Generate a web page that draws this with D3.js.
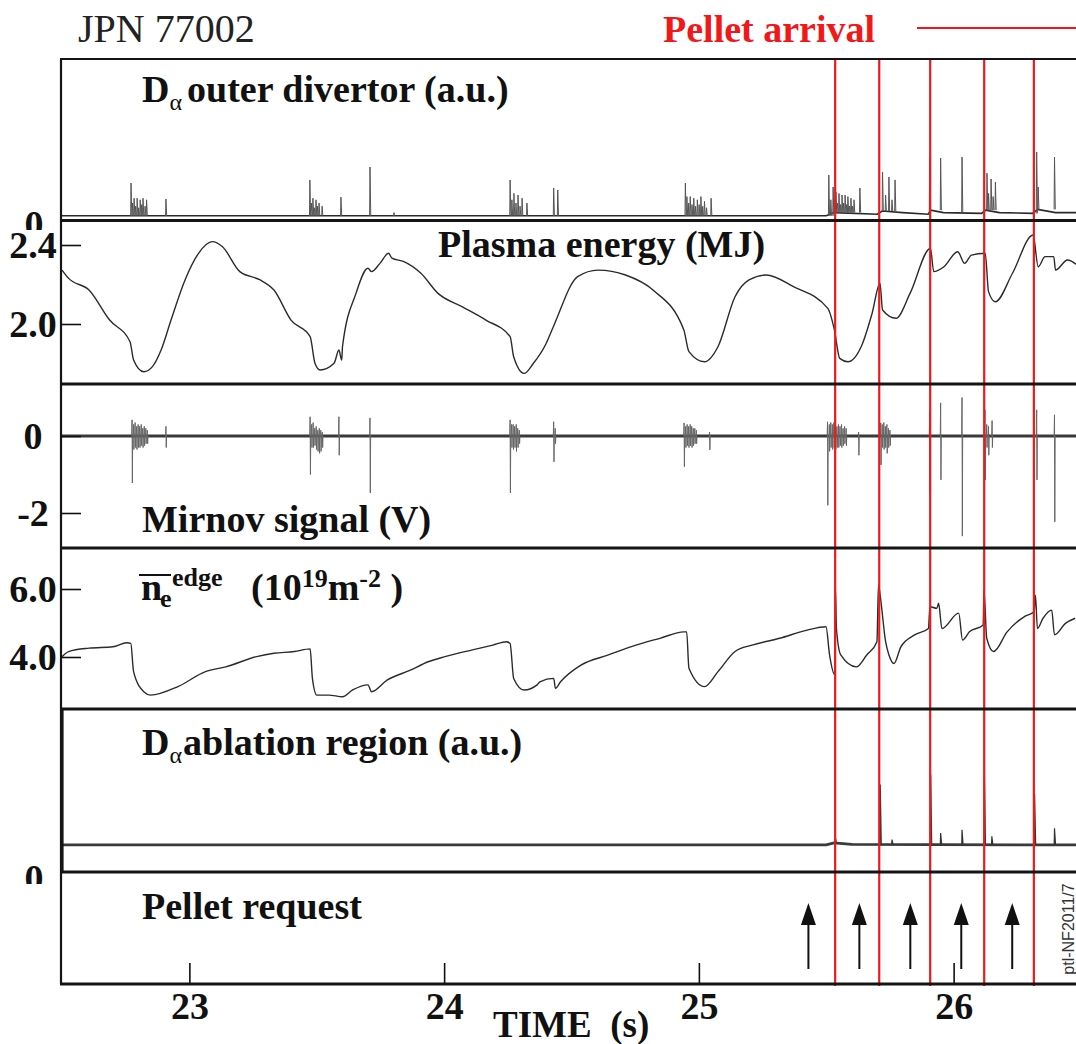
<!DOCTYPE html>
<html>
<head>
<meta charset="utf-8">
<script src="https://cdn.jsdelivr.net/npm/d3@7"></script>
<style>
  html, body { margin: 0; padding: 0; background: #fff; }
  svg { display: block; }
  .serif { font-family: "Liberation Serif", "Times New Roman", serif; }
  .sans { font-family: "Liberation Sans", Arial, sans-serif; }
</style>
</head>
<body>
<svg id="chart" width="1076" height="1044"></svg>
<script>
// ---- time axis -------------------------------------------------------------
const timeDomain = [22.5, 26.5];
const timeTicks = [23, 24, 25, 26];

// pellet arrival times (red markers) and pellet request times (arrows), s
const pelletArrival = [25.535, 25.708, 25.908, 26.12, 26.315];
const pelletRequest = [25.43, 25.63, 25.83, 26.03, 26.23];

// ---- D-alpha outer divertor (a.u.) -----------------------------------------
const divertorBase = [
  [22.50, 0.02], [25.50, 0.02], [25.53, 0.04], [25.70, 0.03], [25.72, 0.05],
  [25.80, 0.04], [25.90, 0.03], [25.91, 0.055], [25.96, 0.04], [26.11, 0.035],
  [26.125, 0.055], [26.18, 0.04], [26.31, 0.035], [26.33, 0.06], [26.40, 0.04],
  [26.50, 0.04]
];
// ELM / pellet spikes: [time, peak]
const divertorSpikes = [
  [22.771, 0.225], [22.777, 0.10], [22.783, 0.13], [22.789, 0.08], [22.795, 0.13],
  [22.801, 0.07], [22.807, 0.12], [22.813, 0.09], [22.818, 0.13], [22.826, 0.08],
  [22.832, 0.12], [22.908, 0.125],
  [23.473, 0.244], [23.479, 0.10], [23.485, 0.13], [23.491, 0.07], [23.497, 0.12],
  [23.503, 0.08], [23.509, 0.10], [23.521, 0.08], [23.595, 0.137], [23.709, 0.325],
  [23.803, 0.04],
  [24.259, 0.244], [24.266, 0.12], [24.274, 0.16], [24.282, 0.10], [24.290, 0.15],
  [24.298, 0.08], [24.306, 0.13], [24.325, 0.10], [24.430, 0.194], [24.446, 0.181],
  [24.947, 0.225], [24.953, 0.14], [24.960, 0.10], [24.966, 0.14], [24.973, 0.09],
  [24.980, 0.13], [24.987, 0.08], [24.994, 0.12], [25.001, 0.09], [25.008, 0.14],
  [25.015, 0.08], [25.022, 0.11], [25.030, 0.07], [25.048, 0.13],
  [25.510, 0.275], [25.518, 0.12], [25.527, 0.20], [25.532, 0.12], [25.538, 0.17],
  [25.544, 0.10], [25.550, 0.16], [25.556, 0.09], [25.562, 0.15], [25.568, 0.10],
  [25.574, 0.15], [25.580, 0.09], [25.585, 0.14], [25.591, 0.08], [25.597, 0.13],
  [25.603, 0.08], [25.609, 0.12], [25.632, 0.194],
  [25.721, 0.294], [25.733, 0.15], [25.746, 0.262], [25.758, 0.12], [25.770, 0.244],
  [25.906, 0.375], [25.949, 0.381], [26.033, 0.387],
  [26.131, 0.287], [26.137, 0.16], [26.147, 0.25], [26.155, 0.14], [26.164, 0.23],
  [26.326, 0.419], [26.332, 0.20], [26.396, 0.387]
];

// ---- plasma energy (MJ) -----------------------------------------------------
const energy = [
  [22.500, 2.273], [22.526, 2.231], [22.606, 2.172], [22.687, 2.020], [22.767, 1.910],
  [22.781, 1.818], [22.821, 1.758], [22.855, 1.784], [22.889, 1.868], [22.928, 2.020],
  [22.983, 2.223], [23.036, 2.358], [23.090, 2.417], [23.130, 2.391], [23.198, 2.265],
  [23.278, 2.223], [23.332, 2.172], [23.399, 2.020], [23.474, 1.936], [23.493, 1.801],
  [23.513, 1.767], [23.568, 1.801], [23.587, 1.868], [23.598, 1.818], [23.601, 1.885],
  [23.654, 2.155], [23.701, 2.282], [23.715, 2.265], [23.748, 2.307], [23.782, 2.358],
  [23.795, 2.333], [23.842, 2.316], [23.909, 2.257], [23.976, 2.155], [24.070, 2.088],
  [24.164, 2.020], [24.259, 1.936], [24.273, 1.834], [24.314, 1.750], [24.350, 1.800],
  [24.400, 1.900], [24.430, 1.990], [24.524, 2.240], [24.604, 2.273], [24.712, 2.248],
  [24.820, 2.172], [24.941, 1.970], [24.961, 1.860], [25.022, 1.809], [25.075, 1.885],
  [25.142, 2.138], [25.197, 2.223], [25.264, 2.248], [25.371, 2.189], [25.506, 2.079],
  [25.532, 1.970], [25.553, 1.826], [25.585, 1.809], [25.640, 1.894], [25.680, 2.054],
  [25.711, 2.206], [25.721, 2.071], [25.774, 2.029], [25.829, 2.155], [25.909, 2.383],
  [25.922, 2.265], [25.962, 2.290], [26.016, 2.366], [26.043, 2.307], [26.070, 2.349],
  [26.124, 2.358], [26.137, 2.164], [26.164, 2.113], [26.231, 2.257], [26.312, 2.451],
  [26.332, 2.290], [26.359, 2.341], [26.393, 2.341], [26.400, 2.273], [26.447, 2.324],
  [26.484, 2.299]
];

// ---- Mirnov signal (V): [time, positive excursion, negative excursion] ----
const mirnovSpikes = [
  [22.775, 0.42, -1.22], [22.781, 0.30, -0.35], [22.787, 0.35, -0.30], [22.793, 0.25, -0.35],
  [22.799, 0.30, -0.30], [22.805, 0.25, -0.30], [22.811, 0.30, -0.25], [22.817, 0.20, -0.30],
  [22.823, 0.25, -0.25], [22.829, 0.20, -0.20], [22.835, 0.15, -0.20], [22.908, 0.25, -0.30],
  [23.474, 0.50, -1.00], [23.480, 0.30, -0.30], [23.486, 0.35, -0.30], [23.492, 0.20, -0.25],
  [23.498, 0.25, -0.35], [23.504, 0.15, -0.40], [23.510, 0.20, -0.45], [23.516, 0.15, -0.40],
  [23.522, 0.10, -0.30], [23.587, 0.50, -0.50], [23.709, 0.47, -1.48],
  [24.259, 0.42, -1.48], [24.265, 0.30, -0.30], [24.271, 0.30, -0.35], [24.277, 0.25, -0.30],
  [24.283, 0.30, -0.40], [24.289, 0.20, -0.30], [24.295, 0.15, -0.20],
  [24.430, 0.37, -0.67], [24.436, 0.20, -0.20],
  [24.942, 0.34, -0.80], [24.948, 0.25, -0.30], [24.954, 0.30, -0.25], [24.960, 0.25, -0.30],
  [24.966, 0.30, -0.25], [24.972, 0.25, -0.30], [24.978, 0.20, -0.25], [24.984, 0.20, -0.20],
  [24.990, 0.15, -0.20], [25.042, 0.10, -0.36],
  [25.505, 0.37, -1.80], [25.512, 0.30, -0.40], [25.518, 0.35, -0.30], [25.524, 0.30, -0.35],
  [25.530, 0.35, -0.30], [25.536, 0.30, -0.35], [25.542, 0.25, -0.30], [25.548, 0.30, -0.30],
  [25.554, 0.25, -0.25], [25.560, 0.30, -0.30], [25.566, 0.20, -0.25], [25.572, 0.25, -0.20],
  [25.578, 0.20, -0.25], [25.627, 0.10, -0.50],
  [25.714, 0.34, -0.75], [25.720, 0.30, -0.30], [25.726, 0.35, -0.35], [25.732, 0.25, -0.30],
  [25.738, 0.30, -0.45], [25.744, 0.20, -0.30], [25.750, 0.15, -0.25],
  [25.906, 0.60, -1.48], [25.949, 0.86, -1.14], [26.033, 1.00, -2.60],
  [26.123, 0.68, -1.14], [26.130, 0.30, -0.30], [26.137, 0.25, -0.50], [26.151, 0.40, -0.30],
  [26.326, 0.68, -1.14], [26.396, 0.55, -2.23]
];

// ---- edge line-integrated density (1e19 m^-2) -------------------------------
const density = [
  [22.500, 4.01], [22.526, 4.16], [22.606, 4.26], [22.700, 4.30], [22.754, 4.42],
  [22.770, 4.40], [22.781, 3.57], [22.821, 2.98], [22.848, 2.88], [22.955, 3.13],
  [23.063, 3.57], [23.143, 3.71], [23.264, 4.01], [23.332, 4.11], [23.412, 4.16],
  [23.474, 4.24], [23.483, 3.37], [23.500, 2.88], [23.547, 2.88], [23.601, 2.83],
  [23.641, 3.03], [23.701, 3.18], [23.715, 2.98], [23.776, 3.32], [23.870, 3.62],
  [23.937, 3.86], [24.003, 4.01], [24.111, 4.21], [24.191, 4.35], [24.245, 4.45],
  [24.259, 4.40], [24.273, 3.37], [24.314, 3.03], [24.365, 3.18], [24.376, 3.27],
  [24.430, 3.37], [24.437, 3.08], [24.457, 3.27], [24.537, 3.76], [24.645, 4.06],
  [24.753, 4.35], [24.847, 4.55], [24.941, 4.74], [24.952, 4.74], [24.961, 3.67],
  [25.022, 3.13], [25.075, 3.57], [25.142, 4.16], [25.209, 4.35], [25.317, 4.55],
  [25.425, 4.79], [25.499, 4.89], [25.513, 4.06], [25.534, 3.47], [25.536, 6.02],
  [25.540, 4.84], [25.557, 4.06], [25.618, 3.71], [25.659, 4.06], [25.699, 4.45],
  [25.705, 6.12], [25.713, 5.73], [25.733, 4.45], [25.746, 4.06], [25.766, 3.81],
  [25.793, 4.30], [25.847, 4.65], [25.901, 4.84], [25.907, 5.48], [25.934, 5.43],
  [25.941, 5.58], [25.954, 4.84], [26.020, 5.29], [26.035, 4.50], [26.062, 4.74],
  [26.116, 4.94], [26.119, 5.97], [26.130, 4.55], [26.157, 4.16], [26.210, 4.74],
  [26.278, 5.19], [26.316, 5.33], [26.321, 5.82], [26.329, 4.84], [26.351, 5.14],
  [26.385, 5.38], [26.396, 4.65], [26.439, 4.99], [26.477, 5.14]
];

// ---- D-alpha in the ablation region (a.u.) ---------------------------------
const ablationBase = [[22.50, 0.167], [25.50, 0.167], [25.53, 0.18], [25.60, 0.17], [26.50, 0.167]];
const ablationSpikes = [
  [25.536, 0.21], [25.712, 0.54], [25.758, 0.20], [25.910, 0.60], [25.949, 0.24],
  [26.033, 0.26], [26.121, 0.60], [26.150, 0.22], [26.318, 0.48], [26.396, 0.27]
];

// ---- axis tick values --------------------------------------------------------
const energyTicks = [2.0, 2.4];
const mirnovTicks = [0, -2];
const densityTicks = [4.0, 6.0];

// =============================================================================
const svg = d3.select("#chart");
const W = 1076;
const plotLeft = 61;
const bounds = [59, 220.5, 384, 548, 709, 872, 984];
const RED = "#f01818";
const INK = "#111";

const x = d3.scaleLinear(timeDomain, [62, 1081]);
const yDiv = d3.scaleLinear([0, 1], [219, 59]);
const yEnergy = d3.scaleLinear([2.0, 2.4], [324, 245]);
const yMirnov = d3.scaleLinear([0, -2], [436, 513]);
const yDens = d3.scaleLinear([4, 6], [657, 589]);
const yAbl = d3.scaleLinear([0, 1], [872, 710]);

// clip regions for each strip
const defs = svg.append("defs");
bounds.slice(0, -1).forEach((top, i) => {
  defs.append("clipPath").attr("id", "clip" + i)
    .append("rect").attr("x", plotLeft).attr("y", top + 1.5)
    .attr("width", W - plotLeft).attr("height", bounds[i + 1] - top - 3);
});

const traceColor = "#2b2b2b";

// step lookup of a baseline level at time t
function levelAt(base, t) {
  let v = base[0][1];
  for (const [bt, bv] of base) { if (bt <= t) v = bv; else break; }
  return v;
}

function spikeGroup(panelIdx, yScale, base, spikes, wUp, wDown, color, width) {
  const line = d3.line().x(d => x(d[0])).y(d => yScale(d[1]));
  const g = svg.append("g").attr("clip-path", `url(#clip${panelIdx})`);
  g.append("path").attr("d", line(base)).attr("fill", "none")
    .attr("stroke", traceColor).attr("stroke-width", 1.6);
  g.selectAll("path.spike").data(spikes).join("path").attr("class", "spike")
    .attr("d", ([t, p]) => {
      const b = levelAt(base, t);
      return line([[t - wUp, b], [t, p], [t + wDown, b]]);
    })
    .attr("fill", "none").attr("stroke", color).attr("stroke-width", width);
  return g;
}

// --- strip 1: divertor D-alpha
spikeGroup(0, yDiv, divertorBase, divertorSpikes, 0.0015, 0.003, "#555", 1);

// --- strip 2: plasma energy
svg.append("g").attr("clip-path", "url(#clip1)")
  .append("path").datum(energy)
  .attr("d", d3.line().curve(d3.curveMonotoneX).x(d => x(d[0])).y(d => yEnergy(d[1])))
  .attr("fill", "none").attr("stroke", traceColor).attr("stroke-width", 1.4);

// --- strip 3: Mirnov signal
{
  const g = svg.append("g").attr("clip-path", "url(#clip2)");
  const line = d3.line().x(d => x(d[0])).y(d => yMirnov(d[1]));
  g.append("path").attr("d", line([[timeDomain[0], 0], [timeDomain[1], 0]]))
    .attr("stroke", "#3a3a3a").attr("stroke-width", 2.8).attr("fill", "none");
  g.selectAll("path.spike").data(mirnovSpikes).join("path").attr("class", "spike")
    .attr("d", ([t, up, dn]) => line([[t - 0.0015, 0], [t, up], [t + 0.0012, dn], [t + 0.0025, 0]]))
    .attr("fill", "none").attr("stroke", "#666").attr("stroke-width", 1);
}

// --- strip 4: edge density
svg.append("g").attr("clip-path", "url(#clip3)")
  .append("path").datum(density)
  .attr("d", d3.line().curve(d3.curveMonotoneX).x(d => x(d[0])).y(d => yDens(d[1])))
  .attr("fill", "none").attr("stroke", traceColor).attr("stroke-width", 1.4);

// --- strip 5: ablation D-alpha
{
  const g = spikeGroup(4, yAbl, ablationBase, ablationSpikes, 0.0012, 0.004, "#333", 1.2);
  g.select("path").attr("stroke-width", 2.8).attr("stroke", "#3a3a3a");
}

// --- strip 6: pellet request arrows
pelletRequest.forEach(t => {
  const px = x(t);
  svg.append("line").attr("x1", px).attr("x2", px).attr("y1", 969).attr("y2", 922)
    .attr("stroke", INK).attr("stroke-width", 2);
  svg.append("path").attr("d", `M${px - 7.5},925 L${px},903 L${px + 7.5},925 Z`).attr("fill", INK);
});

// --- red pellet-arrival markers
svg.selectAll("line.arrival").data(pelletArrival).join("line").attr("class", "arrival")
  .attr("x1", d => x(d)).attr("x2", d => x(d))
  .attr("y1", bounds[0]).attr("y2", bounds[6] + 2)
  .attr("stroke", RED).attr("stroke-width", 2.2);

// --- frame
bounds.forEach((yy, i) => {
  svg.append("line").attr("x1", plotLeft - 1).attr("x2", W).attr("y1", yy).attr("y2", yy)
    .attr("stroke", "#151515").attr("stroke-width", i === 0 ? 2.2 : 2.8);
});
svg.append("line").attr("x1", plotLeft).attr("x2", plotLeft)
  .attr("y1", bounds[0]).attr("y2", bounds[6])
  .attr("stroke", "#151515").attr("stroke-width", 2.2);
svg.append("line").attr("x1", plotLeft + 0.8).attr("x2", plotLeft + 0.8)
  .attr("y1", bounds[4]).attr("y2", bounds[5])
  .attr("stroke", "#151515").attr("stroke-width", 3.6);

// --- left axes
function leftAxis(scale, ticks, fmt) {
  const g = svg.append("g").attr("transform", `translate(${plotLeft},0)`)
    .call(d3.axisLeft(scale).tickValues(ticks).tickFormat(fmt)
      .tickSizeInner(-20).tickSizeOuter(0).tickPadding(6));
  g.select(".domain").remove();
  g.selectAll(".tick line").attr("stroke", INK).attr("stroke-width", 1.6);
  g.selectAll(".tick text").attr("x", 33 - plotLeft).attr("text-anchor", "middle")
    .attr("class", "serif").attr("font-size", 38)
    .attr("font-weight", "bold").attr("fill", INK);
  return g;
}
leftAxis(yEnergy, energyTicks, d3.format(".1f"));
leftAxis(yMirnov, mirnovTicks, d => String(d));
leftAxis(yDens, densityTicks, d3.format(".1f"));

// zero labels of the two D-alpha strips, partly hidden by the strip below
[[237, 230, "z1"], [891, 884, "z5"]].forEach(([base, cut, id]) => {
  defs.append("clipPath").attr("id", id).append("rect")
    .attr("x", 0).attr("y", 0).attr("width", plotLeft - 3).attr("height", cut);
  svg.append("text").attr("class", "serif").attr("clip-path", `url(#${id})`)
    .attr("x", 34).attr("y", base).attr("text-anchor", "middle")
    .attr("font-size", 38).attr("font-weight", "bold").attr("fill", INK).text(0);
});

// --- bottom time axis
{
  const g = svg.append("g").attr("transform", `translate(0,${bounds[6]})`)
    .call(d3.axisBottom(x).tickValues(timeTicks).tickFormat(d3.format("d"))
      .tickSizeInner(-21).tickSizeOuter(0).tickPadding(8));
  g.select(".domain").remove();
  g.selectAll(".tick line").attr("stroke", INK).attr("stroke-width", 1.6);
  g.selectAll(".tick text").attr("class", "serif")
    .attr("font-size", 38).attr("font-weight", "bold").attr("fill", INK);
}
svg.append("text").attr("class", "serif").attr("x", 493).attr("y", 1037).attr("font-size", 37)
  .attr("font-weight", "bold").attr("fill", INK)
  .attr("xml:space", "preserve").text("TIME  (s)");

// --- titles and strip labels
svg.append("text").attr("class", "serif").attr("x", 78).attr("y", 42).attr("font-size", 40)
  .attr("fill", "#222").text("JPN 77002");
svg.append("text").attr("class", "serif").attr("x", 663).attr("y", 42).attr("font-size", 38)
  .attr("font-weight", "bold").attr("fill", RED).text("Pellet arrival");
svg.append("line").attr("x1", 917).attr("x2", W).attr("y1", 28).attr("y2", 28)
  .attr("stroke", RED).attr("stroke-width", 1.8);

function label(xp, yp, txt) {
  return svg.append("text").attr("class", "serif").attr("x", xp).attr("y", yp)
    .attr("font-size", 38).attr("font-weight", "bold").attr("fill", INK).text(txt);
}
function dAlphaLabel(yBase, rest, gap) {
  const t = label(142, yBase, null);
  t.append("tspan").text("D");
  t.append("tspan").attr("font-size", 24).attr("font-weight", "normal")
    .attr("dy", 8).text("\u03B1");
  t.append("tspan").attr("dy", -8).attr("dx", gap).text(rest);
}
dAlphaLabel(102, "outer divertor (a.u.)", 5);
dAlphaLabel(755, "ablation region (a.u.)", 1);
label(438, 257, "Plasma energy (MJ)");
label(142, 532, "Mirnov signal (V)");
label(142, 919, "Pellet request");

// edge density label: n̄_e^edge (10^19 m^-2)
{
  const g = svg.append("g").attr("font-weight", "bold").attr("fill", INK);
  g.append("text").attr("class", "serif").attr("x", 141).attr("y", 600).attr("font-size", 38).text("n");
  g.append("line").attr("x1", 139).attr("x2", 171).attr("y1", 575).attr("y2", 575)
    .attr("stroke", INK).attr("stroke-width", 2);
  g.append("text").attr("class", "serif").attr("x", 160).attr("y", 607).attr("font-size", 26).text("e");
  g.append("text").attr("class", "serif").attr("x", 172).attr("y", 586).attr("font-size", 26).text("edge");
  const u = g.append("text").attr("class", "serif").attr("x", 251).attr("y", 600)
    .attr("font-size", 38).attr("xml:space", "preserve");
  u.append("tspan").text("(10");
  u.append("tspan").attr("font-size", 26).attr("dy", -13).text("19");
  u.append("tspan").attr("dy", 13).text("m");
  u.append("tspan").attr("font-size", 26).attr("dy", -13).text("-2");
  u.append("tspan").attr("dy", 13).text(" )");
}

// figure reference tag
svg.append("text").attr("class", "sans").attr("transform", "translate(1074,929) rotate(-90)")
  .attr("text-anchor", "middle").attr("font-size", 16).attr("fill", "#333").text("ptl-NF2011/7");
</script>
</body>
</html>
